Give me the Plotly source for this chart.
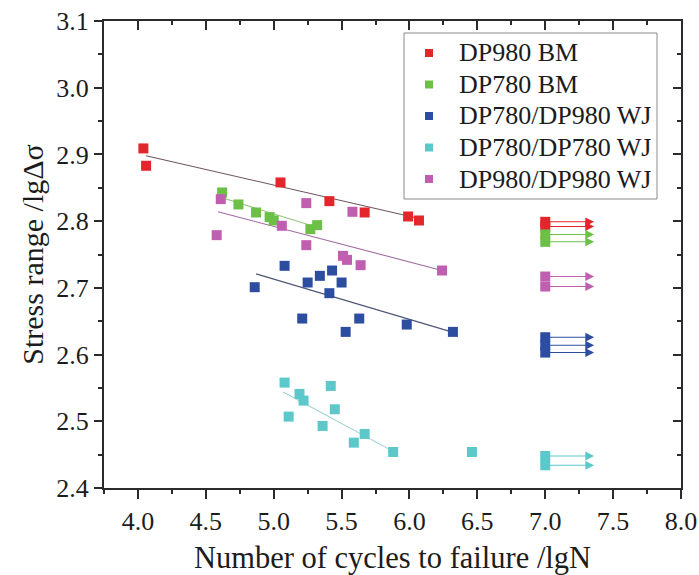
import plotly.graph_objects as go

# ---------------- data ----------------
series_names = ["DP980 BM", "DP780 BM", "DP780/DP980 WJ", "DP780/DP780 WJ", "DP980/DP980 WJ"]

dp980_bm_x = [4.04, 4.06, 5.05, 5.41, 5.67, 5.99, 6.07]
dp980_bm_y = [2.909, 2.883, 2.858, 2.830, 2.813, 2.807, 2.801]

dp780_bm_x = [4.62, 4.74, 4.87, 4.97, 5.00, 5.27, 5.32]
dp780_bm_y = [2.843, 2.825, 2.813, 2.806, 2.801, 2.788, 2.794]

dp780_dp980_x = [4.86, 5.08, 5.21, 5.25, 5.34, 5.41, 5.43, 5.50, 5.53, 5.63, 5.98, 6.32]
dp780_dp980_y = [2.701, 2.733, 2.654, 2.708, 2.718, 2.692, 2.726, 2.708, 2.634, 2.654, 2.645, 2.634]

dp780_dp780_x = [5.08, 5.11, 5.19, 5.22, 5.36, 5.42, 5.45, 5.59, 5.67, 5.88, 6.46]
dp780_dp780_y = [2.558, 2.507, 2.541, 2.531, 2.493, 2.553, 2.518, 2.468, 2.481, 2.454, 2.454]

dp980_dp980_x = [4.58, 4.61, 5.06, 5.24, 5.24, 5.51, 5.54, 5.58, 5.64, 6.24]
dp980_dp980_y = [2.779, 2.833, 2.793, 2.827, 2.764, 2.748, 2.742, 2.814, 2.734, 2.726]

# fitted lines (end points)
fit_dp980_bm_x = [4.06, 6.07]
fit_dp980_bm_y = [2.898, 2.804]
fit_dp780_bm_x = [4.62, 5.33]
fit_dp780_bm_y = [2.835, 2.790]
fit_dp780_dp980_x = [4.87, 6.31]
fit_dp780_dp980_y = [2.721, 2.634]
fit_dp780_dp780_x = [5.07, 5.87]
fit_dp780_dp780_y = [2.544, 2.456]
fit_dp980_dp980_x = [4.59, 6.24]
fit_dp980_dp980_y = [2.814, 2.726]

# run-outs (no failure at 10^7 cycles)
runout_x = 7.0
runout_arrow_end = 7.36
runout_dp980_bm_y = [2.799, 2.792]
runout_dp780_bm_y = [2.780, 2.769]
runout_dp780_dp980_y = [2.626, 2.614, 2.603]
runout_dp780_dp780_y = [2.448, 2.434]
runout_dp980_dp980_y = [2.717, 2.702]

x_ticks = [4.0, 4.5, 5.0, 5.5, 6.0, 6.5, 7.0, 7.5, 8.0]
y_ticks = [2.4, 2.5, 2.6, 2.7, 2.8, 2.9, 3.0, 3.1]

# ---------------- styling ----------------
colors = ["#e4252c", "#6cc048", "#2c4da0", "#5cc8ca", "#c05eb0"]
fit_colors = ["#6e5561", "#93c47a", "#4e5777", "#9fd2d3", "#a26aa0"]
FONT = "Liberation Serif, Times New Roman, serif"
TEXT = "#1c1c1c"

W, H = 699, 575
ML, MR, MT, MB = 104, 18, 21, 87
PW, PH = W - ML - MR, H - MT - MB


def px_to_paper(px, py):
    return (px - ML) / PW, (H - MB - py) / PH


groups = [
    (dp980_bm_x, dp980_bm_y, fit_dp980_bm_x, fit_dp980_bm_y, runout_dp980_bm_y),
    (dp780_bm_x, dp780_bm_y, fit_dp780_bm_x, fit_dp780_bm_y, runout_dp780_bm_y),
    (dp780_dp980_x, dp780_dp980_y, fit_dp780_dp980_x, fit_dp780_dp980_y, runout_dp780_dp980_y),
    (dp780_dp780_x, dp780_dp780_y, fit_dp780_dp780_x, fit_dp780_dp780_y, runout_dp780_dp780_y),
    (dp980_dp980_x, dp980_dp980_y, fit_dp980_dp980_x, fit_dp980_dp980_y, runout_dp980_dp980_y),
]

fig = go.Figure()

# fit lines first (beneath markers)
for (gx, gy, fx, fy, ro), fc in zip(groups, fit_colors):
    fig.add_trace(go.Scatter(x=fx, y=fy, mode="lines", line=dict(color=fc, width=1.1),
                             showlegend=False, hoverinfo="skip"))

annotations = []
for name, (gx, gy, fx, fy, ro), c in zip(series_names, groups, colors):
    fig.add_trace(go.Scatter(x=gx, y=gy, mode="markers", name=name, showlegend=False,
                             marker=dict(symbol="square", size=10, color=c, line=dict(width=0))))
    fig.add_trace(go.Scatter(x=[runout_x] * len(ro), y=ro, mode="markers", showlegend=False,
                             name=name + " run-out",
                             marker=dict(symbol="square", size=10, color=c, line=dict(width=0))))
    for yv in ro:
        annotations.append(dict(x=runout_arrow_end, y=yv, ax=runout_x, ay=yv,
                                xref="x", yref="y", axref="x", ayref="y",
                                text="", showarrow=True, arrowhead=2, arrowsize=1.6,
                                arrowwidth=1.1, arrowcolor=c))

# legend box (drawn to match the reference's compact row spacing)
shapes = []
bx0, by0 = px_to_paper(404, 199)
bx1, by1 = px_to_paper(657, 33)
shapes.append(dict(type="rect", xref="paper", yref="paper", x0=bx0, y0=by0, x1=bx1, y1=by1,
                   line=dict(color="#8a8a8a", width=1), fillcolor="white", layer="above"))
row_y = [53, 84.5, 116, 147.5, 179]
for name, c, ry in zip(series_names, colors, row_y):
    mx0, my0 = px_to_paper(425, ry + 4)
    mx1, my1 = px_to_paper(433, ry - 4)
    shapes.append(dict(type="rect", xref="paper", yref="paper", x0=mx0, y0=my0, x1=mx1, y1=my1,
                       line=dict(width=0), fillcolor=c, layer="above"))
    tx, ty = px_to_paper(457, ry)
    annotations.append(dict(x=tx, y=ty, xref="paper", yref="paper", text=name, showarrow=False,
                            xanchor="left", yanchor="middle",
                            font=dict(family=FONT, size=26, color=TEXT)))

# invisible trace to activate the mirrored axes
fig.add_trace(go.Scatter(x=[None], y=[None], xaxis="x2", yaxis="y2", showlegend=False, hoverinfo="skip"))

axis_line = "#2b2b2b"
fig.update_layout(
    width=W, height=H,
    margin=dict(l=ML, r=MR, t=MT, b=MB, autoexpand=False),
    paper_bgcolor="white", plot_bgcolor="white",
    font=dict(family=FONT, size=26, color=TEXT),
    showlegend=False,
    xaxis=dict(range=[3.75, 8.0], tickvals=x_ticks, ticktext=[f"{v:.1f}" for v in x_ticks],
               automargin=False,
               showgrid=False, zeroline=False, showline=True, linecolor=axis_line, linewidth=2,
               ticks="outside", ticklen=9, tickwidth=1.5, tickcolor=axis_line,
               minor=dict(dtick=0.25, tick0=3.75, ticks="outside", ticklen=4, tickwidth=1.5, tickcolor=axis_line),
               tickfont=dict(size=26),
               title=dict(text="Number of cycles to failure /lgN", font=dict(size=30.5), standoff=12)),
    yaxis=dict(range=[2.4, 3.1], tickvals=y_ticks, ticktext=[f"{v:.1f}" for v in y_ticks],
               automargin=False,
               showgrid=False, zeroline=False, showline=True, linecolor=axis_line, linewidth=2,
               ticks="outside", ticklen=8, tickwidth=1.5, tickcolor=axis_line,
               minor=dict(dtick=0.05, tick0=2.4, ticks="outside", ticklen=4, tickwidth=1.5, tickcolor=axis_line),
               tickfont=dict(size=26),
               title=dict(text="Stress range /lgΔσ", font=dict(size=30), standoff=4)),
    xaxis2=dict(range=[3.75, 8.0], overlaying="x", side="top", tickvals=x_ticks, automargin=False,
                showticklabels=False, showgrid=False, zeroline=False, showline=True,
                linecolor=axis_line, linewidth=2, ticks="inside", ticklen=9, tickwidth=1.5,
                tickcolor=axis_line,
                minor=dict(dtick=0.25, tick0=3.75, ticks="inside", ticklen=4, tickwidth=1.5, tickcolor=axis_line)),
    yaxis2=dict(range=[2.4, 3.1], overlaying="y", side="right", tickvals=y_ticks, automargin=False,
                showticklabels=False, showgrid=False, zeroline=False, showline=True,
                linecolor=axis_line, linewidth=2, ticks="inside", ticklen=8, tickwidth=1.5,
                tickcolor=axis_line,
                minor=dict(dtick=0.05, tick0=2.4, ticks="inside", ticklen=4, tickwidth=1.5, tickcolor=axis_line)),
    shapes=shapes,
    annotations=annotations,
)

fig.write_html("out.html")
